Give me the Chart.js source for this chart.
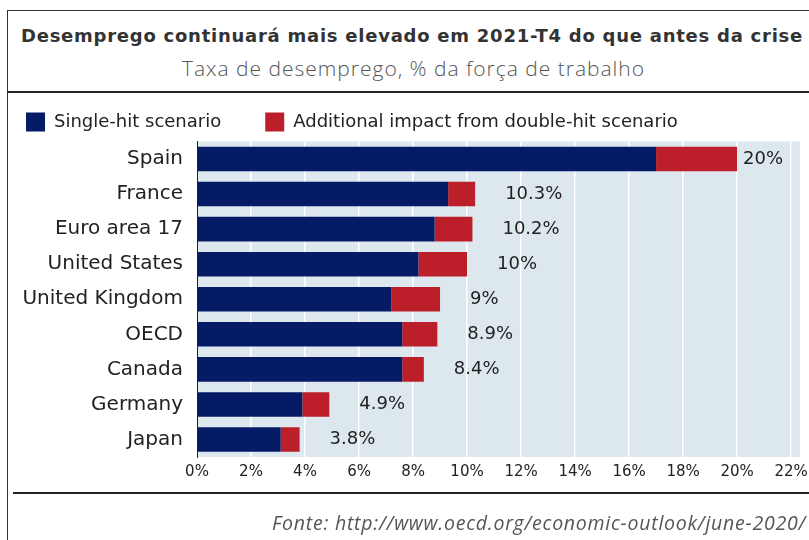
<!DOCTYPE html>
<html>
<head>
<meta charset="utf-8">
<script src="https://cdn.jsdelivr.net/npm/chart.js@4.4.1/dist/chart.umd.min.js"></script>
<style>
  body { margin: 0; background: #fff; }
  #wrap { position: relative; width: 809px; height: 540px; overflow: hidden; font-family: "DejaVu Sans", sans-serif; color: #222; }
  #frame { position: absolute; left: 7px; top: 10px; width: 900px; height: 600px; border: 1.5px solid #333; box-sizing: border-box; }
  .txt { position: absolute; white-space: nowrap; height: 30px; line-height: 30px; }
  #title { left: 21px; top: 21px; font-weight: bold; font-size: 18px; color: #333; }
  #subtitle { left: 182px; top: 53px; font-family: "Open Sans", sans-serif; font-weight: 300; font-size: 21px; color: #555; }
  #source { left: 272px; top: 508px; font-family: "Open Sans", sans-serif; font-style: italic; font-size: 19.5px; color: #555; }
  .rule { position: absolute; height: 2px; background: #222; }
  #chart { position: absolute; left: -18px; top: 0; }
</style>
</head>
<body>
<div id="wrap">
  <div id="frame"></div>
  <div class="txt" id="title" data-w="782">Desemprego continuará mais elevado em 2021-T4 do que antes da crise</div>
  <div class="txt" id="subtitle" data-w="463">Taxa de desemprego, % da força de trabalho</div>
  <div class="rule" style="left:7px; top:91px; width:802px;"></div>
  <canvas id="chart" width="827" height="540"></canvas>
  <div class="rule" style="left:13px; top:492px; width:796px;"></div>
  <div class="txt" id="source" data-w="534">Fonte: http://www.oecd.org/economic-outlook/june-2020/</div>
</div>
<script>
const countries = ['Spain', 'France', 'Euro area 17', 'United States', 'United Kingdom', 'OECD', 'Canada', 'Germany', 'Japan'];
const singleHit = [17.0, 9.3, 8.8, 8.2, 7.2, 7.6, 7.6, 3.9, 3.1];
const doubleHitExtra = [3.0, 1.0, 1.4, 1.8, 1.8, 1.3, 0.8, 1.0, 0.7];
const xTicks = [0, 2, 4, 6, 8, 10, 12, 14, 16, 18, 20, 22];
const seriesNames = ['Single-hit scenario', 'Additional impact from double-hit scenario'];

// stretch the html texts to the widths of the original
function fitWidth(el) {
  const target = +el.dataset.w;
  const w = el.getBoundingClientRect().width;
  const n = el.textContent.length;
  el.style.letterSpacing = ((target - w) / n) + 'px';
}

const plotBackground = {
  id: 'plotBackground',
  beforeDraw(chart) {
    const a = chart.chartArea, ctx = chart.ctx;
    ctx.save();
    ctx.fillStyle = '#dde7ee';
    ctx.fillRect(a.left, a.top, a.right - a.left, a.bottom - a.top);
    ctx.restore();
  }
};

const totalLabels = {
  id: 'totalLabels',
  afterDatasetsDraw(chart) {
    const ctx = chart.ctx, x = chart.scales.x, meta = chart.getDatasetMeta(1);
    ctx.save();
    ctx.font = '18px "DejaVu Sans"';
    ctx.fillStyle = '#222';
    ctx.textBaseline = 'middle';
    countries.forEach((c, i) => {
      const total = Math.round((singleHit[i] + doubleHitExtra[i]) * 10) / 10;
      const txt = total + '%';
      const end = x.getPixelForValue(singleHit[i] + doubleHitExtra[i]);
      let px = end + 30;
      if (px + ctx.measureText(txt).width > chart.chartArea.right) px = end + 6;
      ctx.fillText(txt, px, meta.data[i].y);
    });
    ctx.restore();
  }
};

function draw() {
  document.querySelectorAll('[data-w]').forEach(fitWidth);

  new Chart(document.getElementById('chart'), {
    type: 'bar',
    data: {
      labels: countries,
      datasets: [{
        label: seriesNames[0],
        data: singleHit,
        backgroundColor: '#061b66',
        borderWidth: 0,
        barPercentage: 0.7,
        categoryPercentage: 1
      }, {
        label: seriesNames[1],
        data: doubleHitExtra,
        backgroundColor: '#bd1f2a',
        borderWidth: 0,
        barPercentage: 0.7,
        categoryPercentage: 1
      }]
    },
    options: {
      indexAxis: 'y',
      responsive: false,
      animation: false,
      devicePixelRatio: 1,
      layout: { padding: { top: 68.5, right: 9, bottom: 53, left: 0 } },
      plugins: {
        legend: {
          position: 'top',
          align: 'start',
          labels: {
            boxWidth: 19,
            boxHeight: 19,
            padding: 44,
            color: '#222',
            font: { family: 'DejaVu Sans', size: 18 }
          }
        },
        tooltip: { enabled: false }
      },
      scales: {
        x: {
          stacked: true,
          min: 0,
          max: 22.33,
          afterBuildTicks: s => { s.ticks = xTicks.map(v => ({ value: v })); },
          // last tick label may hang over the plot edge, as in the original
          afterFit: s => { s.paddingLeft = 0; s.paddingRight = 0; },
          grid: { color: '#ffffff', lineWidth: 1.5, drawTicks: false },
          border: { display: false },
          ticks: {
            padding: 6,
            color: '#222',
            font: { family: 'DejaVu Sans', size: 15 },
            callback: v => v + '%'
          }
        },
        y: {
          stacked: true,
          afterFit: s => { s.width = 215; },
          grid: { display: false },
          border: { display: true, color: '#222', width: 1 },
          ticks: {
            padding: 6,
            color: '#222',
            font: { family: 'DejaVu Sans', size: 20 }
          }
        }
      }
    },
    plugins: [plotBackground, totalLabels]
  });
}

document.fonts.ready.then(draw);
</script>
</body>
</html>
